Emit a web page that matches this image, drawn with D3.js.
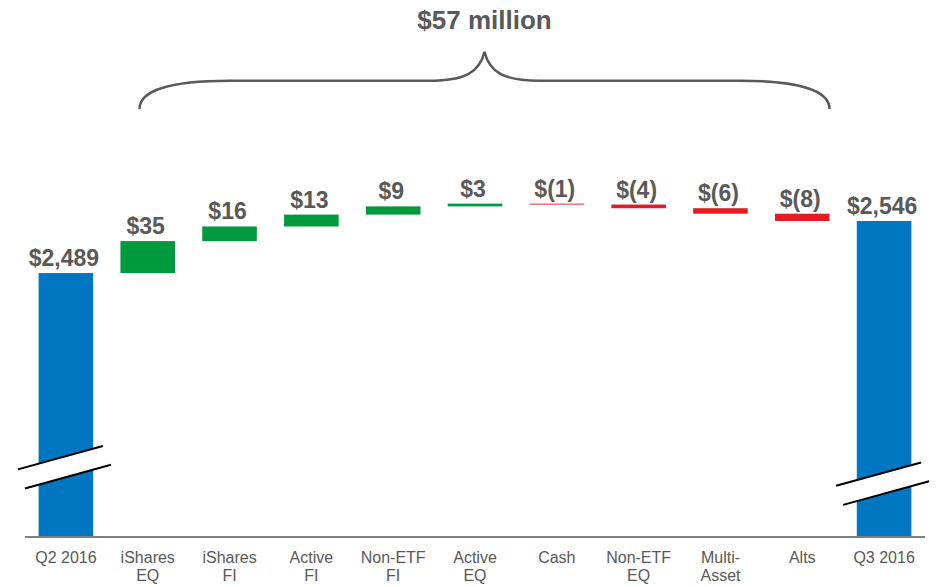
<!DOCTYPE html>
<html>
<head>
<meta charset="utf-8">
<script src="https://cdn.jsdelivr.net/npm/d3@7"></script>
<style>
  body { margin: 0; background: #fff; }
  text { font-family: "Liberation Sans", Arial, sans-serif; }
</style>
</head>
<body>
<div class="visHolder"></div>
<script>
const width = 938;
const height = 587;

// data
const categories = ['Q2 2016', 'iShares EQ', 'iShares FI', 'Active FI', 'Non-ETF FI', 'Active EQ',
  'Cash', 'Non-ETF EQ', 'Multi-Asset', 'Alts', 'Q3 2016'];
const tickLines = [['Q2 2016'], ['iShares', 'EQ'], ['iShares', 'FI'], ['Active', 'FI'], ['Non-ETF', 'FI'],
  ['Active', 'EQ'], ['Cash'], ['Non-ETF', 'EQ'], ['Multi-', 'Asset'], ['Alts'], ['Q3 2016']];
const values = [2489, 35, 16, 13, 9, 3, -1, -4, -6, -8, 2546];
const valueLabels = ['$2,489', '$35', '$16', '$13', '$9', '$3', '$(1)', '$(4)', '$(6)', '$(8)', '$2,546'];
const isTotal = [true, false, false, false, false, false, false, false, false, false, true];
const breakValues = { 'Q2 2016': 2277, 'Q3 2016': 2259 };
const title = '$57 million';

const colors = { total: '#0077c0', up: '#009a3e', down: '#e31b23' };

const svg = d3.select('.visHolder')
  .append('svg')
  .attr('width', width)
  .attr('height', height);

const xScale = d3.scaleBand()
  .domain(categories)
  .range([25, 925])
  .paddingInner(0.333)
  .paddingOuter(0.1665);

const yScale = d3.scaleLinear()
  .domain([2200, 2546])
  .range([537, 221]);

// build waterfall steps
let running = 0;
const steps = categories.map((c, i) => {
  let start, end;
  if (isTotal[i]) {
    start = yScale.domain()[0];
    end = values[i];
    running = values[i];
  } else {
    start = running;
    end = running + values[i];
    running = end;
  }
  return { cat: c, start, end, value: values[i], label: valueLabels[i], total: isTotal[i] };
});

svg.selectAll('rect.bar')
  .data(steps)
  .enter()
  .append('rect')
  .attr('class', 'bar')
  .attr('x', d => xScale(d.cat))
  .attr('width', xScale.bandwidth())
  .attr('y', d => yScale(Math.max(d.start, d.end)))
  .attr('height', d => Math.abs(yScale(d.start) - yScale(d.end)))
  .style('fill', d => d.total ? colors.total : (d.value >= 0 ? colors.up : colors.down));

// value labels
svg.selectAll('text.val')
  .data(steps)
  .enter()
  .append('text')
  .attr('class', 'val')
  .attr('x', d => xScale(d.cat) + xScale.bandwidth() / 2 - 2)
  .attr('y', d => yScale(Math.max(d.start, d.end)) - 7)
  .attr('text-anchor', 'middle')
  .style('font-size', '23px')
  .style('font-weight', 'bold')
  .style('fill', '#595959')
  .text(d => d.label);

// axis break marks on the two total bars
const slope = -0.275;
Object.keys(breakValues).forEach(cat => {
  const cx = xScale(cat) + xScale.bandwidth() / 2;
  const cy = yScale(breakValues[cat]);
  const half = 10.5;
  const up = [[cx - 48, cy - half + slope * -48], [cx + 37, cy - half + slope * 37]];
  const lo = [[cx - 41, cy + half + slope * -41], [cx + 45, cy + half + slope * 45]];
  svg.append('polygon')
    .attr('points', [up[0], up[1], lo[1], lo[0]].map(p => p.join(',')).join(' '))
    .style('fill', '#fff');
  [up, lo].forEach(seg => {
    svg.append('line')
      .attr('x1', seg[0][0]).attr('y1', seg[0][1])
      .attr('x2', seg[1][0]).attr('y2', seg[1][1])
      .style('stroke', '#000')
      .style('stroke-width', 2);
  });
});

// x axis
const xAxis = d3.axisBottom(xScale).tickSize(0).tickSizeOuter(0);
const gx = svg.append('g')
  .attr('id', 'x-axis')
  .attr('transform', `translate(0, ${yScale.range()[0]})`)
  .call(xAxis);

gx.select('.domain')
  .attr('d', `M${xScale.range()[0]},0H${xScale.range()[1]}`)
  .style('stroke', '#808080')
  .style('stroke-width', 2);

gx.selectAll('.tick text')
  .each(function (d, i) {
    const t = d3.select(this);
    t.text(null).attr('y', 26).attr('dy', null)
      .style('font-size', '16px')
      .style('fill', '#595959');
    tickLines[i].forEach((line, j) => {
      t.append('tspan')
        .attr('x', 0)
        .attr('dy', j === 0 ? 0 : 18)
        .text(line);
    });
  });

// brace over the changes
const bl = xScale('iShares EQ') + 19;
const br = xScale('Alts') + xScale.bandwidth();
const bm = (bl + br) / 2;
const by = 80.7, bEnd = 109, bTip = 51.7;
svg.append('path')
  .attr('d', `M${bl},${bEnd} C${bl},${by + 10} ${bl + 30},${by} ${bl + 90},${by}
    L${bm - 55},${by} C${bm - 20},${by} ${bm - 5},${by - 8} ${bm},${bTip}
    C${bm + 5},${by - 8} ${bm + 20},${by} ${bm + 55},${by}
    L${br - 90},${by} C${br - 30},${by} ${br},${by + 10} ${br},${bEnd}`)
  .style('fill', 'none')
  .style('stroke', '#595959')
  .style('stroke-width', 2.5);

svg.append('text')
  .attr('x', bm)
  .attr('y', 29)
  .attr('text-anchor', 'middle')
  .style('font-size', '26px')
  .style('font-weight', 'bold')
  .style('fill', '#595959')
  .text(title);
</script>
</body>
</html>
